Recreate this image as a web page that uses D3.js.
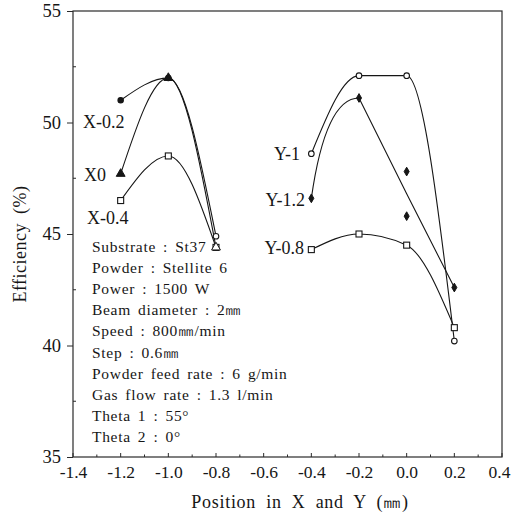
<!DOCTYPE html>
<html>
<head>
<meta charset="utf-8">
<script src="https://cdn.jsdelivr.net/npm/d3@7"></script>
<style>
  html, body { margin: 0; padding: 0; background: #fff; }
  svg { display: block; }
</style>
</head>
<body>
<svg id="chart" width="513" height="523"></svg>
<script>
// Deposition efficiency vs. nozzle position, laser cladding runs
const xTicks = [-1.4, -1.2, -1.0, -0.8, -0.6, -0.4, -0.2, 0.0, 0.2, 0.4];
const yTicks = [35, 40, 45, 50, 55];

// X-offset series (positions along X)
const xPositions = [-1.2, -1.0, -0.8];
const xMinus02 = [51.0, 52.0, 44.9];
const x0 = [47.7, 52.0, 44.4];
const xMinus04 = [46.5, 48.5, 44.4];

// Y-offset series (positions along Y)
const yPositions = [-0.4, -0.2, 0.0, 0.2];
const yMinus1 = [48.6, 52.1, 52.1, 40.2];
const yMinus08 = [44.3, 45.0, 44.5, 40.8];
// Y-1.2 has two repeat measurements at 0.0
const yMinus12Points = [[-0.4, 46.6], [-0.2, 51.1], [0.0, 47.8], [0.0, 45.8], [0.2, 42.6]];

const seriesLabels = ["X-0.2", "X0", "X-0.4", "Y-1", "Y-1.2", "Y-0.8"];

const conditions = [
  "Substrate : St37",
  "Powder : Stellite 6",
  "Power : 1500 W",
  "Beam diameter : 2\u339C",
  "Speed : 800\u339C/min",
  "Step : 0.6\u339C",
  "Powder feed rate : 6 g/min",
  "Gas flow rate : 1.3 l/min",
  "Theta 1 : 55\u00B0",
  "Theta 2 : 0\u00B0"
];

const FONT = "'Liberation Serif'";
const INK = "#161616";

const svg = d3.select("#chart");
const m = { left: 73, right: 502, top: 11, bottom: 457 };

const x = d3.scaleLinear().domain([-1.4, 0.4]).range([m.left, m.right]);
const y = d3.scaleLinear().domain([35, 55]).range([m.bottom, m.top]);

// frame
svg.append("rect")
  .attr("x", m.left).attr("y", m.top)
  .attr("width", m.right - m.left).attr("height", m.bottom - m.top)
  .attr("fill", "none").attr("stroke", "#2a2a2a").attr("stroke-width", 1.2);

// bottom axis: labels below, ticks pointing inward
const xAxis = svg.append("g").attr("transform", `translate(0,${m.bottom})`)
  .call(d3.axisBottom(x).tickValues(xTicks).tickSize(0).tickPadding(9)
    .tickFormat(d => d3.format(".1f")(d).replace("\u2212", "-")));
xAxis.attr("font-family", null);
xAxis.select(".domain").remove();
xAxis.selectAll("text").style("font-family", FONT).style("font-size", "17.5px").attr("fill", INK);
// keep the last label inside the page edge
xAxis.selectAll(".tick").filter(d => d === 0.4).select("text").attr("dx", -3);
svg.append("g").selectAll("line")
  .data(d3.range(0, 19).map(i => -1.4 + i * 0.1))
  .join("line")
  .attr("x1", d => x(d)).attr("x2", d => x(d))
  .attr("y1", m.bottom).attr("y2", (d, i) => m.bottom - (i % 2 === 0 ? 4 : 2.5))
  .attr("stroke", "#2a2a2a").attr("stroke-width", 1);

// left axis: short outward ticks at labels, inward minor ticks
const yAxis = svg.append("g").attr("transform", `translate(${m.left},0)`)
  .call(d3.axisLeft(y).tickValues(yTicks).tickSize(6).tickPadding(6));
yAxis.attr("font-family", null);
yAxis.select(".domain").remove();
yAxis.selectAll("line").attr("stroke", "#2a2a2a");
yAxis.selectAll("text").style("font-family", FONT).style("font-size", "18.5px").attr("fill", INK);
svg.append("g").selectAll("line")
  .data([37.5, 42.5, 47.5, 52.5])
  .join("line")
  .attr("x1", m.left).attr("x2", m.left + 3)
  .attr("y1", d => y(d)).attr("y2", d => y(d))
  .attr("stroke", "#2a2a2a");

// axis titles
svg.append("text")
  .attr("x", 300).attr("y", 508)
  .attr("text-anchor", "middle").attr("fill", INK)
  .style("font-family", FONT).style("font-size", "18px")
  .style("letter-spacing", "0.7px").style("word-spacing", "5px")
  .text("Position in X and Y (\u339C)");
svg.append("text")
  .attr("transform", "translate(26,244) rotate(-90)")
  .attr("text-anchor", "middle").attr("fill", INK)
  .style("font-family", FONT).style("font-size", "18px")
  .style("letter-spacing", "0.5px").style("word-spacing", "4px")
  .text("Efficiency (%)");

// curves
const smooth = d3.line().x(d => x(d[0])).y(d => y(d[1])).curve(d3.curveMonotoneX);
const zip = (xs, ys) => xs.map((v, i) => [v, ys[i]]);

// Y-1.2: rounded climb to the peak, then straight through the mean of the
// repeat readings down to the last point
const yMinus12Mean = d3.rollups(yMinus12Points, v => d3.mean(v, d => d[1]), d => d[0])
  .sort((a, b) => a[0] - b[0]);
function peakThenStraight(pts) {
  const [p0, p1, ...rest] = pts;
  const c = [x(p0[0]) + (x(p1[0]) - x(p0[0])) * 0.3, y(p1[1])];
  let d = `M${x(p0[0])},${y(p0[1])}Q${c[0]},${c[1]} ${x(p1[0])},${y(p1[1])}`;
  rest.forEach(p => { d += `L${x(p[0])},${y(p[1])}`; });
  return d;
}

const curves = [
  smooth(zip(xPositions, xMinus02)),
  smooth(zip(xPositions, x0)),
  smooth(zip(xPositions, xMinus04)),
  smooth(zip(yPositions, yMinus1)),
  peakThenStraight(yMinus12Mean),
  smooth(zip(yPositions, yMinus08))
];
svg.append("g").selectAll("path").data(curves).join("path")
  .attr("d", d => d).attr("fill", "none")
  .attr("stroke", INK).attr("stroke-width", 1.1);

// markers
const g = svg.append("g");
function circle(pts, filled) {
  g.selectAll(null).data(pts).join("circle")
    .attr("cx", d => x(d[0])).attr("cy", d => y(d[1]))
    .attr("r", filled ? 2.7 : 2.8)
    .attr("fill", filled ? INK : "#fff").attr("stroke", INK).attr("stroke-width", 1.1);
}
function square(pts) {
  g.selectAll(null).data(pts).join("rect")
    .attr("x", d => x(d[0]) - 3).attr("y", d => y(d[1]) - 3)
    .attr("width", 6).attr("height", 6)
    .attr("fill", "#fff").attr("stroke", INK).attr("stroke-width", 1.1);
}
function symbol(pts, type, size, filled) {
  g.selectAll(null).data(pts).join("path")
    .attr("transform", d => `translate(${x(d[0])},${y(d[1])})`)
    .attr("d", d3.symbol().type(type).size(size))
    .attr("fill", filled ? INK : "#fff").attr("stroke", INK).attr("stroke-width", 1);
}
// X series: solid markers on the rising part, hollow at the -0.8 end
const xm02 = zip(xPositions, xMinus02), xm0 = zip(xPositions, x0), xm04 = zip(xPositions, xMinus04);
square(xm04);
circle(xm02.slice(0, 2), true);
circle(xm02.slice(2), false);
symbol(xm0.slice(0, 2), d3.symbolTriangle, 34, true);
symbol(xm0.slice(2), d3.symbolTriangle, 34, false);
// Y series
circle(zip(yPositions, yMinus1), false);
square(zip(yPositions, yMinus08));
symbol(yMinus12Points, d3.symbolDiamond, 22, true);

// series labels
const labelPos = [
  [83, 128, "start"], [84, 181, "start"], [87, 224, "start"],
  [300, 160, "end"], [305, 206, "end"], [304, 254, "end"]
];
svg.append("g").selectAll("text").data(seriesLabels).join("text")
  .attr("x", (d, i) => labelPos[i][0]).attr("y", (d, i) => labelPos[i][1])
  .attr("text-anchor", (d, i) => labelPos[i][2]).attr("fill", INK)
  .style("font-family", FONT).style("font-size", "18px")
  .text(d => d);

// test conditions
svg.append("g").selectAll("text").data(conditions).join("text")
  .attr("x", 92).attr("y", (d, i) => 252 + i * 21.1)
  .attr("fill", INK)
  .style("font-family", FONT).style("font-size", "15.5px")
  .style("letter-spacing", "0.7px").style("word-spacing", "2.5px")
  .text(d => d);
</script>
</body>
</html>
